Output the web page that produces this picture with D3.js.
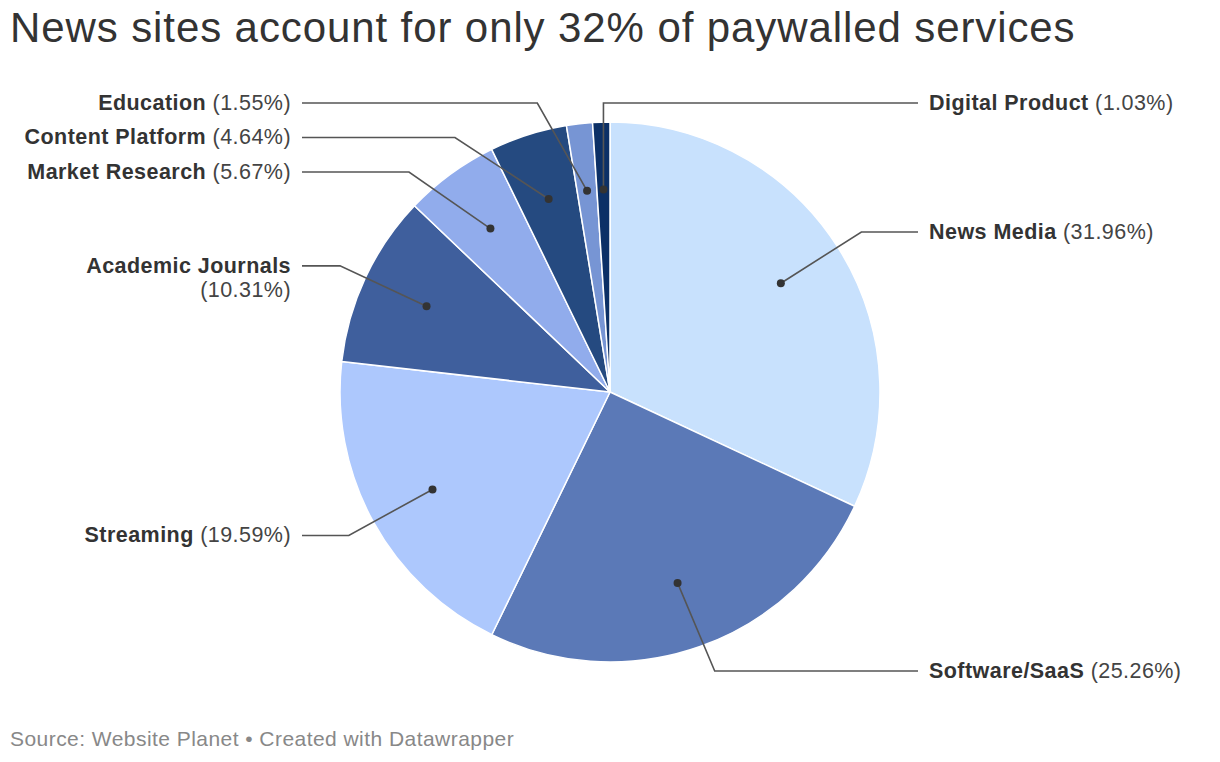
<!DOCTYPE html>
<html>
<head>
<meta charset="utf-8">
<script src="https://cdn.jsdelivr.net/npm/d3@7"></script>
<style>
  html, body { margin: 0; padding: 0; background: #fff; }
  svg { display: block; font-family: "Liberation Sans", Arial, Helvetica, sans-serif; }
</style>
</head>
<body>
<svg id="chart" width="1220" height="762"></svg>
<script>
const categories = ["News Media", "Software/SaaS", "Streaming", "Academic Journals", "Market Research", "Content Platform", "Education", "Digital Product"];
const values = [31.96, 25.26, 19.59, 10.31, 5.67, 4.64, 1.55, 1.03];
const colors = ["#c8e1fd", "#5b79b7", "#adc8fd", "#3f5f9d", "#91acec", "#254a80", "#7795d4", "#0c3066"];
const labelSide = ["right", "right", "left", "left", "left", "left", "left", "right"];
const title = "News sites account for only 32% of paywalled services";
const footer = "Source: Website Planet • Created with Datawrapper";

const W = 1220, H = 762;
const cx = 610, cy = 392, R = 270;
const svg = d3.select("#chart");

svg.append("text").attr("x", 10).attr("y", 42)
  .attr("font-size", 42).attr("letter-spacing", 0.9).attr("fill", "#333").text(title);

svg.append("text").attr("x", 10).attr("y", 746)
  .attr("font-size", 21).attr("letter-spacing", 0.45).attr("fill", "#888").text(footer);

const data = categories.map((c, i) => ({ name: c, value: values[i], color: colors[i], side: labelSide[i] }));
const pie = d3.pie().value(d => d.value).sort(null);
const arcs = pie(data);
const arc = d3.arc().innerRadius(0).outerRadius(R);
const dotArc = d3.arc().innerRadius(R * 0.75).outerRadius(R * 0.75);
const elbowR = 298;

const g = svg.append("g").attr("transform", `translate(${cx},${cy})`);
g.selectAll("path.slice").data(arcs).enter().append("path")
  .attr("class", "slice")
  .attr("d", arc)
  .attr("fill", d => d.data.color)
  .attr("stroke", "#fff").attr("stroke-width", 1.5).attr("stroke-linejoin", "round");

// label layout
arcs.forEach(a => {
  const mid = (a.startAngle + a.endAngle) / 2;
  a.mid = mid;
  const p = dotArc.centroid(a);
  a.dot = [p[0], p[1]];
  a.ly = -Math.cos(mid) * elbowR;
  a.naturalSide = Math.sin(mid) >= 0 ? 1 : -1;
});
const minY = 103 - cy, maxY = 671 - cy, gap = 34.5;
["left", "right"].forEach(side => {
  const grp = arcs.filter(a => a.data.side === side).sort((a, b) => a.ly - b.ly);
  let prev = -Infinity;
  grp.forEach(a => {
    a.ly = Math.max(a.ly, minY, prev + gap);
    prev = a.ly;
  });
  grp.slice().reverse().forEach(a => { a.ly = Math.min(a.ly, maxY); });
});

const lineEnd = R + 38;
arcs.forEach(a => {
  const s = a.data.side === "right" ? 1 : -1;
  let ex;
  if (s !== a.naturalSide) {
    ex = a.dot[0];
  } else {
    ex = s * Math.sqrt(Math.max(0, elbowR * elbowR - a.ly * a.ly));
  }
  const pts = [a.dot, [ex, a.ly], [s * lineEnd, a.ly]];
  g.append("path")
    .attr("d", d3.line()(pts))
    .attr("fill", "none").attr("stroke", "#555").attr("stroke-width", 1.6);
  g.append("circle").attr("cx", a.dot[0]).attr("cy", a.dot[1]).attr("r", 4).attr("fill", "#333");

  const tx = s * (lineEnd + 11);
  const t = g.append("text")
    .attr("x", tx).attr("y", a.ly - 1).attr("dy", "0.36em")
    .attr("font-size", 21.5).attr("letter-spacing", 0.45).attr("fill", "#333")
    .attr("text-anchor", s > 0 ? "start" : "end");
  t.append("tspan").attr("font-weight", "bold").text(a.data.name);
  t.append("tspan").attr("fill", "#444").text(" (" + a.data.value.toFixed(2) + "%)");
  const avail = s > 0 ? (W - 10 - (cx + tx)) : (cx + tx - 10);
  if (t.node().getComputedTextLength() > avail) {
    t.text(null);
    t.append("tspan").attr("font-weight", "bold").text(a.data.name);
    t.append("tspan").attr("x", tx).attr("dy", 24).attr("fill", "#444")
      .text("(" + a.data.value.toFixed(2) + "%)");
  }
});
</script>
</body>
</html>
